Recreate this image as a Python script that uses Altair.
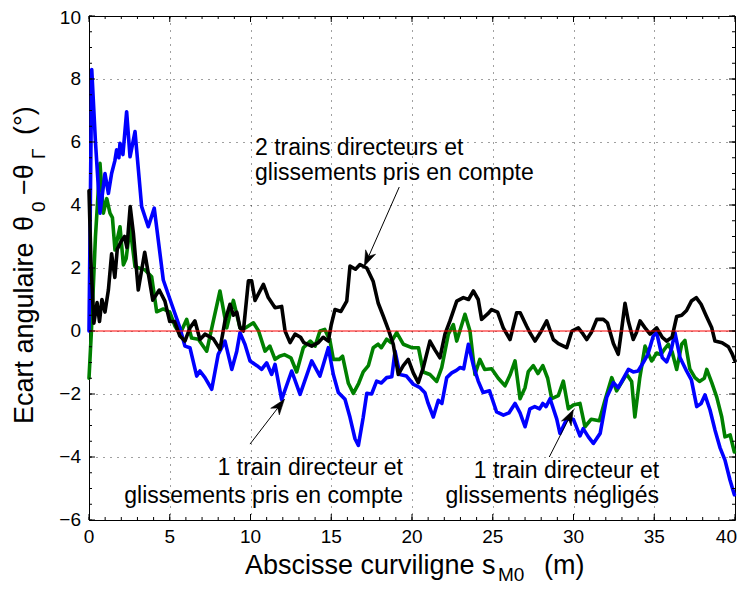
import math
import altair as alt
import pandas as pd

FONT = "Liberation Sans"

# ---------------- data ----------------
black_x = [0.0, 0.12, 0.3, 0.5, 0.65, 0.8, 0.99, 1.2, 1.4, 1.6, 1.75, 2.0, 2.2, 2.35, 2.55, 2.75, 3.05, 3.45, 3.95, 4.35,
           4.7, 5.0, 5.3, 5.63, 5.94, 6.25, 6.56, 6.87, 7.18, 7.7, 8.11, 8.42, 8.73, 8.94, 9.15, 9.35, 9.56, 9.87, 10.07, 10.28,
           10.8, 11.1, 11.52, 11.93, 12.14, 12.45, 12.76, 13.1, 13.3, 13.79, 14.2, 14.5, 14.82, 15.0, 15.23, 15.6, 15.96, 16.16,
           16.5, 16.78, 17.2, 17.6, 17.91, 18.2, 18.53, 18.84, 19.15, 19.46, 19.77, 20.08, 20.39, 20.7, 21.11, 21.42, 21.73,
           22.04, 22.35, 22.77, 23.18, 23.5, 23.8, 24.1, 24.31, 24.7, 24.93, 25.3, 25.65, 26.07, 26.48, 26.7, 27.1, 27.3, 27.62,
           27.95, 28.34, 28.75, 29.06, 29.58, 29.9, 30.3, 30.6, 30.82, 31.1, 31.44, 31.85, 32.1, 32.47, 32.77, 32.98, 33.19,
           33.4, 33.7, 33.9, 34.12, 34.43, 34.74, 35.15, 35.5, 35.77, 36.1, 36.39, 36.7, 37.0, 37.3, 37.6, 37.9, 38.2, 38.56,
           38.76, 39.2, 39.59, 39.8, 40.0]
black_y = [4.45, 2.2, 0.25, 0.9, 0.3, 1.0, 0.6, 1.3, 2.45, 1.7, 2.6, 2.85, 3.0, 2.65, 3.95, 3.1, 1.3, 2.5, 0.98, 1.3,
           0.95, 0.3, 0.3, -0.16, -0.32, 0.1, 0.32, -0.27, -0.1, -0.25, -0.58, 0.32, 0.85, 0.5, 0.6, 0.1, 0.0, 1.59, 1.59, 0.97,
           1.48, 1.06, 0.74, 0.78, 0.0, -0.37, -0.1, -0.2, -0.37, -0.48, -0.37, -0.2, -0.32, 0.2, 0.68, 0.62, 0.95, 2.06,
           1.96, 2.11, 2.0, 1.57, 0.88, 0.5, 0.05, -0.42, -1.38, -1.1, -0.9, -1.33, -1.64, -1.16, -0.32, -0.6, -0.85,
           -0.1, 0.32, 0.95, 1.06, 1.0, 1.27, 1.0, 0.37, 0.55, 0.68, 0.6, 0.1, -0.27, 0.58, 0.58, 0.15, -0.05, -0.32,
           -0.05, 0.32, -0.27, -0.4, -0.53, 0.0, 0.1, -0.1, -0.27, -0.05, 0.37, 0.37, 0.26, -0.4, -0.74, 0.05, 0.88,
           0.3, -0.27, -0.05, 0.32, 0.1, -0.1, 0.1, -0.2, -0.32, -0.2, 0.46, 0.5, 0.65, 0.95, 1.06, 0.85, 0.5, 0.1,
           -0.32, -0.37, -0.5, -0.7, -0.95]

green_x = [0.0, 0.15, 0.4, 0.68, 0.89, 1.1, 1.3, 1.45, 1.61, 1.92, 2.13, 2.3, 2.54, 2.85, 3.47, 3.88, 4.19, 4.6, 5.0, 5.32,
           5.63, 6.05, 6.35, 6.77, 7.29, 7.7, 8.11, 8.53, 8.94, 9.35, 9.7, 10.18, 10.5, 10.9, 11.2, 11.52, 11.8, 12.1, 12.5,
           12.86, 13.27, 13.7, 14.0, 14.3, 14.6, 14.92, 15.13, 15.5, 15.7, 16.06, 16.37, 16.7, 16.98, 17.3, 17.6, 17.9, 18.1,
           18.43, 18.7, 19.05, 19.46, 19.98, 20.4, 20.7, 21.11, 21.53, 21.84, 22.25, 22.56, 22.77, 23.28, 23.59, 23.9, 24.2,
           24.5, 24.93, 25.34, 25.76, 26.07, 26.38, 26.69, 27.0, 27.2, 27.51, 27.8, 28.1, 28.4, 28.65, 29.06, 29.37, 29.68,
           29.99, 30.4, 30.71, 31.1, 31.6, 31.95, 32.37, 32.67, 32.9, 33.29, 33.6, 33.8, 34.1, 34.43, 34.84, 35.15, 35.4,
           35.6, 35.87, 36.1, 36.39, 36.7, 36.9, 37.2, 37.52, 37.8, 38.1, 38.25, 38.56, 38.87, 39.18, 39.38, 39.7, 39.96]
green_y = [-1.5, 0.0, 3.0, 5.32, 3.74, 4.2, 3.74, 3.6, 2.57, 3.31, 2.1, 2.3, 3.31, 2.04, 1.94, 1.72, 0.61, 0.7, 0.6, 0.16,
           -0.1, 0.37, -0.22, -0.26, -0.64, 0.32, 1.27, 0.1, 0.97, 0.1, 0.1, 0.26, 0.0, -0.64, -0.48, -0.9, -0.8, -0.75, -0.85,
           -1.3, -0.53, -0.32, -0.48, 0.0, 0.05, -0.3, -0.9, -0.9, -0.8, -1.66, -1.98, -1.66, -1.3, -1.1, -0.53, -0.42, -0.53,
           -0.26, -0.37, -0.05, -0.42, -0.53, -0.53, -1.3, -1.38, -1.6, -1.16, -0.1, 0.2, -0.32, 0.53, 0.0, -1.38, -0.9,
           -1.22, -1.2, -1.5, -1.74, -1.4, -0.95, -2.15, -1.8, -1.29, -1.1, -1.35, -1.1, -1.5, -2.15, -2.05, -1.59, -2.47,
           -2.35, -2.3, -3.04, -2.8, -2.85, -2.2, -1.48, -1.9, -1.7, -1.37, -1.6, -2.73, -1.5, -0.48, -0.95, -0.7, -0.75,
           -0.6, -0.42, -0.65, -1.22, -0.42, -0.3, -1.2, -1.48, -1.6, -1.5, -1.22, -1.64, -2.1, -2.73, -3.36, -3.3, -3.84]

blue_x = [0.0, 0.17, 0.4, 0.68, 0.99, 1.2, 1.4, 1.6, 1.71, 1.85, 1.92, 2.1, 2.33, 2.54, 2.85, 3.26, 3.67, 4.04, 4.6, 5.12,
          5.63, 5.94, 6.25, 6.67, 6.87, 7.18, 7.6, 8.0, 8.42, 8.84, 9.15, 9.35, 9.66, 9.97, 10.4, 10.69, 11.0, 11.31, 11.52,
          11.93, 12.55, 13.07, 13.79, 14.3, 14.82, 15.13, 15.44, 15.85, 16.16, 16.47, 16.68, 16.98, 17.2, 17.5, 17.81, 18.1,
          18.43, 18.75, 18.95, 19.25, 19.66, 20.08, 20.5, 20.8, 21.0, 21.32, 21.63, 21.85, 22.15, 22.46, 22.75, 22.98, 23.2,
          23.49, 23.8, 24.1, 24.4, 24.8, 25.24, 25.66, 26.0, 26.38, 26.69, 27.0, 27.3, 27.6, 27.9, 28.1, 28.3, 28.55, 28.96,
          29.16, 29.58, 29.99, 30.4, 30.6, 30.92, 31.23, 31.65, 32.06, 32.47, 32.77, 33.1, 33.4, 33.7, 34.0, 34.32, 34.6,
          34.94, 35.15, 35.5, 35.77, 36.05, 36.28, 36.6, 37.0, 37.3, 37.63, 37.9, 38.14, 38.45, 38.76, 39.07, 39.38, 39.69,
          39.96]
blue_y = [0.0, 8.3, 6.0, 3.74, 5.0, 4.37, 5.0, 5.4, 5.75, 5.5, 5.96, 5.6, 6.96, 5.53, 6.33, 3.95, 3.31, 3.9, 1.62, 0.85,
          0.1, -0.48, -0.53, -1.43, -1.27, -1.48, -1.85, -0.74, -0.32, -1.22, -0.64, -0.05, -0.43, -0.95, -1.1, -1.22, -1.01,
          -1.38, -1.06, -2.18, -1.27, -2.01, -0.95, -1.43, -0.53, -1.38, -1.95, -2.17, -2.74, -3.42, -3.63, -2.74, -1.98,
          -2.0, -1.59, -1.65, -1.48, -1.45, -0.64, -1.38, -1.43, -1.69, -1.8, -1.96, -2.3, -2.73, -2.2, -2.3, -1.48, -1.33,
          -1.25, -1.16, -1.2, -0.42, -1.1, -1.59, -1.95, -1.9, -2.57, -2.67, -2.6, -2.3, -2.6, -3.04, -2.47, -2.4, -2.47,
          -2.3, -2.4, -2.15, -2.79, -3.25, -2.8, -2.8, -3.33, -3.1, -3.36, -3.57, -3.25, -2.1, -1.64, -1.8, -1.5, -1.22,
          -1.3, -1.27, -1.0, -0.75, -0.16, -0.05, -0.85, -0.98, -0.6, -0.05, -0.85, -1.27, -1.55, -2.4, -2.3, -2.03, -2.5,
          -3.14, -3.7, -4.1, -4.73, -5.2]

x_ticks = [0, 5, 10, 15, 20, 25, 30, 35, 40]
x_tick_labels = ["0", "5", "10", "15", "20", "25", "30", "35", "40"]
y_ticks = [-6, -4, -2, 0, 2, 4, 6, 8, 10]
y_tick_labels = ["−6", "−4", "−2", "0", "2", "4", "6", "8", "10"]

# annotations: text lines, anchor positions in data units
ann_left_lines = ["2 trains directeurs et", "glissements pris en compte"]
ann_left_x = [10.28, 10.28]
ann_left_y = [5.81, 5.02]
ann_right_lines = ["1 train directeur et", "glissements pris en compte", "1 train directeur et", "glissements négligés"]
ann_right_x = [19.44, 19.44, 35.3, 35.3]
ann_right_y = [-4.35, -5.24, -4.45, -5.24]

arrow_tail_x = [19.21, 9.97, 28.5]
arrow_tail_y = [4.57, -3.59, -4.0]
arrow_tip_x = [17.05, 12.1, 29.99]
arrow_tip_y = [2.06, -2.17, -2.5]

# ---------------- layout ----------------
W, H = 646, 504
X_DOM, Y_DOM = [0, 40], [-6, 10]
xs = alt.Scale(domain=X_DOM, nice=False, zero=False)
ys = alt.Scale(domain=Y_DOM, nice=False, zero=False)

x_axis = alt.Axis(values=x_ticks, title=None, grid=True, ticks=False, domain=False, labels=False,
                  gridColor="black", gridDash=[1, 6], gridOpacity=0.75)
y_axis = alt.Axis(values=y_ticks, title=None, grid=True, ticks=False, domain=False, labels=False,
                  gridColor="black", gridDash=[1, 6], gridOpacity=0.75)

frames = []
for name, sx, sy in [("green", green_x, green_y), ("blue", blue_x, blue_y), ("black", black_x, black_y)]:
    frames.append(pd.DataFrame({"s": sx, "e": sy, "serie": name, "ordre": list(range(len(sx)))}))
df = pd.concat(frames, ignore_index=True)

colors = {"green": "#008000", "blue": "#0000ff", "black": "#000000"}


def series(name):
    return alt.Chart(df[df.serie == name]).mark_line(
        color=colors[name], strokeWidth=3.6, strokeJoin="round", strokeCap="round"
    ).encode(
        x=alt.X("s:Q", scale=xs, axis=x_axis),
        y=alt.Y("e:Q", scale=ys, axis=y_axis),
        order="ordre:Q",
    )


zero_df = pd.DataFrame({"s": [0, 40], "e": [0, 0]})
zero_line = alt.Chart(zero_df).mark_line(color="#ff0000", strokeWidth=1).encode(
    x=alt.X("s:Q", scale=xs), y=alt.Y("e:Q", scale=ys))

# tick labels as text (end labels kept inside the page)
xl = pd.DataFrame({"v": x_ticks, "t": x_tick_labels})
x_labels_mid = alt.Chart(xl.iloc[:-1]).mark_text(
    font=FONT, fontSize=19, align="center", baseline="top", color="black").encode(
    x=alt.X("v:Q", scale=xs), y=alt.value(H + 8), text="t:N")
x_labels_end = alt.Chart(xl.iloc[-1:]).mark_text(
    font=FONT, fontSize=19, align="right", baseline="top", color="black", dx=2).encode(
    x=alt.X("v:Q", scale=xs), y=alt.value(H + 8), text="t:N")
yl = pd.DataFrame({"v": y_ticks, "t": y_tick_labels})
y_labels_mid = alt.Chart(yl.iloc[:-1]).mark_text(
    font=FONT, fontSize=19, align="right", baseline="middle", color="black").encode(
    y=alt.Y("v:Q", scale=ys), x=alt.value(-8), text="t:N")
y_labels_top = alt.Chart(yl.iloc[-1:]).mark_text(
    font=FONT, fontSize=19, align="right", baseline="middle", color="black", dy=2).encode(
    y=alt.Y("v:Q", scale=ys), x=alt.value(-8), text="t:N")

# inside ticks (MATLAB style)
xt = pd.DataFrame({"v": x_ticks})
yt = pd.DataFrame({"v": y_ticks})
x_minor = pd.DataFrame({"v": [v for v in range(0, 41)]})
y_minor = pd.DataFrame({"v": [v / 2 for v in range(-12, 21)]})
TK, MK = 6, 3
tick_layers = [
    alt.Chart(xt).mark_rule(color="black").encode(x=alt.X("v:Q", scale=xs), y=alt.value(H), y2=alt.value(H - TK)),
    alt.Chart(xt).mark_rule(color="black").encode(x=alt.X("v:Q", scale=xs), y=alt.value(0), y2=alt.value(TK)),
    alt.Chart(yt).mark_rule(color="black").encode(y=alt.Y("v:Q", scale=ys), x=alt.value(0), x2=alt.value(TK)),
    alt.Chart(yt).mark_rule(color="black").encode(y=alt.Y("v:Q", scale=ys), x=alt.value(W), x2=alt.value(W - TK)),
    alt.Chart(x_minor).mark_rule(color="black").encode(x=alt.X("v:Q", scale=xs), y=alt.value(H), y2=alt.value(H - MK)),
    alt.Chart(x_minor).mark_rule(color="black").encode(x=alt.X("v:Q", scale=xs), y=alt.value(0), y2=alt.value(MK)),
    alt.Chart(y_minor).mark_rule(color="black").encode(y=alt.Y("v:Q", scale=ys), x=alt.value(0), x2=alt.value(MK)),
    alt.Chart(y_minor).mark_rule(color="black").encode(y=alt.Y("v:Q", scale=ys), x=alt.value(W), x2=alt.value(W - MK)),
]

# arrows
kx, ky = W / (X_DOM[1] - X_DOM[0]), H / (Y_DOM[1] - Y_DOM[0])
angles = []
for tx, ty, hx, hy in zip(arrow_tail_x, arrow_tail_y, arrow_tip_x, arrow_tip_y):
    dx = (hx - tx) * kx
    dy = -(hy - ty) * ky
    angles.append(math.degrees(math.atan2(dx, -dy)) % 360)
arr_df = pd.DataFrame({"tx": arrow_tail_x, "ty": arrow_tail_y, "hx": arrow_tip_x, "hy": arrow_tip_y, "ang": angles})
arrow_lines = alt.Chart(arr_df).mark_rule(color="black", strokeWidth=1).encode(
    x=alt.X("tx:Q", scale=xs), y=alt.Y("ty:Q", scale=ys), x2="hx:Q", y2="hy:Q")
HEAD = "M0,0 L0.6,1.7 L0,1.2 L-0.6,1.7 Z"
arrow_heads = alt.Chart(arr_df).mark_point(shape=HEAD, filled=True, fill="black", stroke="black",
                                           strokeWidth=0.5, size=330, opacity=1).encode(
    x=alt.X("hx:Q", scale=xs), y=alt.Y("hy:Q", scale=ys), angle=alt.Angle("ang:Q", scale=None))

ann_l = alt.Chart(pd.DataFrame({"x": ann_left_x, "y": ann_left_y, "t": ann_left_lines})).mark_text(
    font=FONT, fontSize=23, align="left", baseline="middle", color="black").encode(
    x=alt.X("x:Q", scale=xs), y=alt.Y("y:Q", scale=ys), text="t:N")
ann_r = alt.Chart(pd.DataFrame({"x": ann_right_x, "y": ann_right_y, "t": ann_right_lines})).mark_text(
    font=FONT, fontSize=23, align="right", baseline="middle", color="black").encode(
    x=alt.X("x:Q", scale=xs), y=alt.Y("y:Q", scale=ys), text="t:N")

# axis titles built from pieces (for subscripts)
one = pd.DataFrame({"k": [0]})


def piece(text, px, py, size, angle=0):
    kw = dict(text=text, font=FONT, fontSize=size, align="left", baseline="alphabetic", color="black")
    if angle:
        kw["angle"] = angle
    return alt.Chart(one).mark_text(**kw).encode(x=alt.value(px), y=alt.value(py))


TS, SS = 27, 19
title_layers = [
    piece("Abscisse curviligne s", 156, 558, TS),
    piece("M0", 409, 565, SS),
    piece("(m)", 455, 558, TS),
    piece("Ecart angulaire", -56, 408, TS, 270),
    piece("θ", -56, 215, TS, 270),
    piece("0", -44, 196, SS, 270),
    piece("−θ", -56, 179, TS, 270),
    piece("Γ", -44, 143, SS, 270),
    piece("(°)", -56, 119, TS, 270),
]

chart = alt.layer(
    series("green"), series("blue"), series("black"), zero_line,
    *tick_layers, x_labels_mid, x_labels_end, y_labels_mid, y_labels_top,
    arrow_lines, arrow_heads, ann_l, ann_r, *title_layers
).properties(
    width=W, height=H, autosize="none",
    padding={"left": 81, "top": 8, "right": 2, "bottom": 66},
    background="white",
).configure_view(stroke="black", strokeWidth=1)

chart.save("out.html", embed_options={"renderer": "svg", "actions": False})
